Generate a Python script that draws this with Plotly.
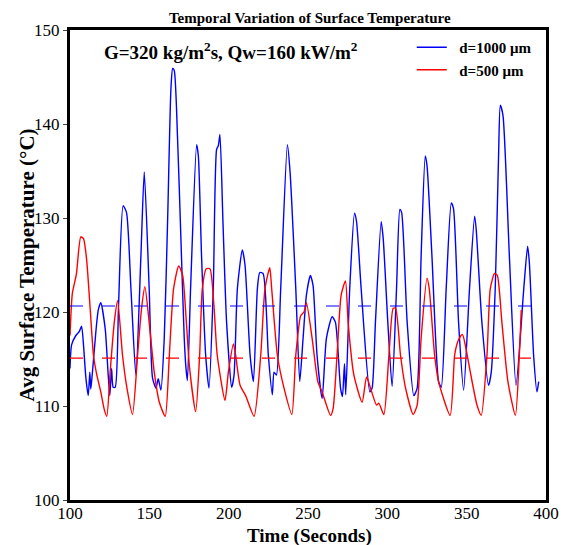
import plotly.graph_objects as go

# ---- data ----
t_1000 = [100.0, 101.0, 103.7, 105.8, 107.3, 108.5, 110.0, 111.5, 112.5, 113.1, 114.0, 116.3, 117.8, 119.4,
          122.2, 124.0, 125.1, 126.2, 127.2, 128.5, 130.6, 133.5, 135.6, 138.4, 141.5, 144.7, 146.8, 149.9,
          152.0, 154.2, 155.6, 157.3, 159.4, 161.5, 163.6, 164.7, 165.7, 167.8, 169.9, 172.0, 173.1, 174.0,
          176.0, 179.8, 180.9, 182.9, 185.5, 187.6, 190.3, 192.4, 193.5, 194.5, 196.4, 198.7, 201.9, 203.4,
          205.5, 208.6, 210.3, 213.5, 215.6, 218.1, 219.6, 221.7, 225.0, 227.5, 228.6, 230.1, 232.8, 237.0,
          238.7, 242.3, 244.8, 246.9, 249.0, 251.5, 253.2, 255.7, 258.9, 261.6, 265.2, 267.3, 270.5, 271.7,
          273.0, 273.8, 276.3, 279.3, 280.6, 283.5, 289.0, 290.4, 292.5, 296.1, 297.4, 300.3, 303.0, 305.8,
          307.9, 309.0, 312.5, 316.7, 318.8, 321.3, 323.9, 325.0, 328.1, 332.3, 334.0, 337.1, 340.3, 341.7,
          344.9, 348.1, 351.8, 355.0, 356.0, 359.6, 363.8, 365.5, 368.0, 370.1, 371.2, 372.9, 376.9, 381.1,
          386.0, 388.4, 389.5, 392.2, 394.3, 395.4]
T_1000 = [114.0, 116.5, 117.5, 117.9, 118.5, 116.5, 113.0, 111.1, 113.6, 111.8, 113.3, 117.9, 120.2, 121.0,
          118.2, 113.5, 111.1, 114.0, 112.0, 112.0, 120.7, 131.3, 130.6, 122.5, 113.3, 126.0, 134.9, 122.5,
          113.0, 111.9, 112.9, 111.7, 117.2, 129.6, 143.7, 145.9, 145.7, 138.4, 127.8, 117.2, 114.0, 112.7,
          122.5, 137.8, 136.6, 126.0, 115.4, 111.9, 122.5, 137.3, 137.7, 138.9, 129.6, 118.9, 112.0, 113.3,
          122.5, 126.6, 125.0, 115.4, 112.6, 122.5, 124.2, 124.1, 115.4, 111.2, 113.6, 113.3, 122.5, 137.8,
          134.9, 122.5, 112.6, 117.2, 121.8, 123.9, 122.8, 115.4, 110.8, 117.2, 119.5, 118.9, 111.9, 111.0,
          114.5, 111.2, 122.5, 130.5, 129.6, 122.5, 111.5, 111.9, 118.9, 129.6, 127.8, 118.9, 112.1, 122.5,
          130.9, 130.6, 118.9, 111.1, 111.9, 126.0, 136.6, 135.6, 126.0, 112.6, 112.0, 122.5, 131.6, 131.0,
          118.9, 111.7, 122.5, 130.2, 128.8, 118.9, 112.2, 113.6, 122.5, 136.6, 142.0, 140.9, 126.0, 112.2,
          122.5, 127.0, 125.3, 115.4, 111.5, 112.6]

t_500 = [100.0, 101.5, 104.0, 106.8, 108.5, 110.4, 112.7, 114.8, 116.9, 119.4, 121.5, 123.2, 125.3, 127.9,
         130.0, 133.1, 135.9, 139.4, 142.6, 145.1, 147.2, 149.9, 153.1, 156.3, 160.0, 162.6, 165.3, 168.5,
         171.0, 173.1, 175.4, 179.2, 181.7, 183.4, 185.9, 188.2, 190.7, 192.8, 197.7, 199.8, 203.0, 204.4,
         207.2, 210.7, 216.0, 220.2, 222.9, 225.9, 227.1, 230.7, 234.9, 239.8, 242.3, 245.4, 247.5, 249.0,
         252.6, 256.2, 258.9, 264.2, 265.8, 268.3, 270.9, 273.6, 275.3, 278.9, 284.1, 286.9, 289.4, 293.2,
         294.6, 297.8, 301.0, 303.7, 305.2, 308.3, 311.5, 316.3, 318.8, 321.3, 325.0, 326.4, 329.8, 332.3,
         339.6, 342.4, 343.9, 345.3, 347.4, 349.1, 352.3, 356.5, 359.2, 362.8, 364.9, 367.6, 369.3, 372.2,
         376.0, 380.7, 383.2, 384.4]
T_500 = [117.5, 122.0, 124.0, 128.0, 127.8, 125.7, 120.4, 115.4, 113.3, 111.5, 109.7, 108.9, 113.6, 118.9,
         121.2, 115.4, 111.9, 109.1, 115.4, 120.4, 122.7, 118.9, 113.6, 110.4, 108.9, 115.4, 122.5, 124.9,
         123.9, 119.5, 114.0, 109.4, 115.4, 122.5, 124.6, 124.6, 120.7, 115.4, 110.6, 113.6, 116.6, 115.4,
         112.2, 111.1, 108.9, 115.4, 122.5, 124.7, 122.5, 115.4, 111.9, 109.1, 115.4, 119.6, 120.0, 121.0,
         117.2, 112.6, 111.5, 109.0, 109.7, 115.4, 121.8, 123.3, 118.9, 113.3, 110.4, 113.1, 111.9, 110.1,
         110.3, 109.1, 115.4, 120.4, 120.4, 115.4, 111.9, 109.1, 110.1, 117.2, 123.6, 122.5, 115.4, 112.6,
         109.0, 115.4, 116.6, 117.2, 117.6, 116.5, 113.6, 110.1, 109.0, 115.4, 122.5, 124.1, 123.9, 118.9,
         112.6, 109.0, 115.4, 120.2]

mean_t = [100.0, 391.0]
mean_1000 = 120.64
mean_500 = 115.1

x_ticks = [100, 150, 200, 250, 300, 350, 400]
y_ticks = [100, 110, 120, 130, 140, 150]

FONT = "Liberation Serif"
NB = "\u00a0\u00a0"

fig = go.Figure()
fig.add_trace(go.Scatter(x=t_1000, y=T_1000, mode="lines", name=NB + "<b>d=1000 μm</b>",
                         line=dict(color="#0000ff", width=1.4, shape="spline", smoothing=0.6)))
fig.add_trace(go.Scatter(x=t_500, y=T_500, mode="lines", name=NB + "<b>d=500 μm</b>",
                         line=dict(color="#ff0000", width=1.4, shape="spline", smoothing=0.6)))
fig.add_trace(go.Scatter(x=mean_t, y=[mean_1000] * len(mean_t), mode="lines", showlegend=False,
                         line=dict(color="#0000ff", width=1.2, dash="13px,19px")))
fig.add_trace(go.Scatter(x=mean_t, y=[mean_500] * len(mean_t), mode="lines", showlegend=False,
                         line=dict(color="#ff0000", width=1.2, dash="13px,19px")))

fig.update_layout(
    width=561, height=537,
    margin=dict(l=62, r=23, t=22, b=45, autoexpand=False),
    paper_bgcolor="white", plot_bgcolor="white",
    font=dict(family=FONT, color="black", size=16),
    title=dict(text="<b>Temporal Variation of Surface Temperature</b>", x=0.538, xanchor="center",
               y=0.981, yanchor="middle", font=dict(family=FONT, size=15, color="black")),
    showlegend=True,
    legend=dict(x=0.718, y=0.998, xanchor="left", yanchor="top", bgcolor="rgba(0,0,0,0)",
                font=dict(family=FONT, size=15, color="black"), tracegroupgap=0, itemwidth=30),
    annotations=[
        dict(text="<b>G=320 kg/m<sup>2</sup>s, Qw=160 kW/m<sup>2</sup></b>", xref="paper", yref="paper",
             x=0.068, y=0.955, xanchor="left", yanchor="middle", showarrow=False,
             font=dict(family=FONT, size=19, color="black")),
        dict(text="<b>Avg Surface Temperature (°C)</b>", xref="paper", yref="paper",
             x=-0.0894, y=0.5, xanchor="center", yanchor="middle", textangle=-90, showarrow=False,
             font=dict(family=FONT, size=21, color="black")),
        dict(text="<b>Time (Seconds)</b>", xref="paper", yref="paper",
             x=0.504, y=-0.0765, xanchor="center", yanchor="middle", showarrow=False,
             font=dict(family=FONT, size=19, color="black")),
    ],
)
fig.update_xaxes(range=[100, 400], tickvals=x_ticks, ticks="", ticklen=4, tickwidth=1,
                 showline=True, linecolor="black", linewidth=3, mirror=True, showgrid=False, zeroline=False,
                 automargin=False, ticklabelstandoff=-4,
                 tickfont=dict(family=FONT, size=17, color="black"))
fig.update_yaxes(range=[100, 150], tickvals=y_ticks, ticks="outside", ticklen=4, tickwidth=1,
                 showline=True, linecolor="black", linewidth=3, mirror=True, showgrid=False, zeroline=False,
                 automargin=False,
                 tickfont=dict(family=FONT, size=17, color="black"))

fig.write_html("out.html")
